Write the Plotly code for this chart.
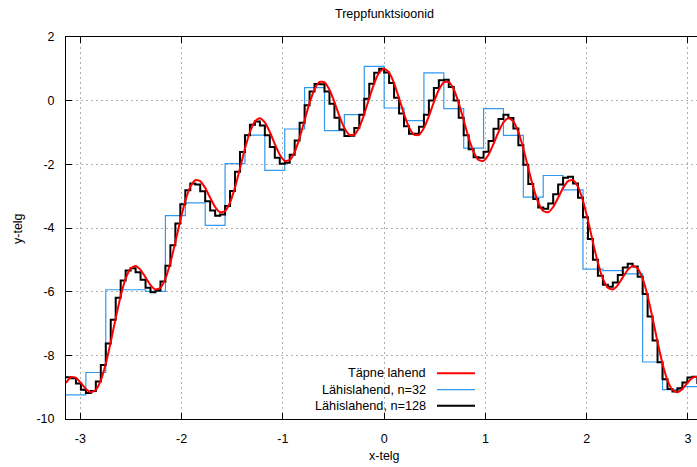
import numpy as np
import plotly.graph_objects as go

# ---------------- data ----------------
X_MIN, X_MAX = -np.pi, np.pi

# exact solution ("Täpne lahend") at 129 equally spaced points on [-pi, pi]
exact_y = [
    -8.870, -8.682, -8.707, -8.868, -9.057, -9.161, -9.086, -8.786, -8.263, -7.579,
    -6.831, -6.134, -5.592, -5.272, -5.192, -5.314, -5.552, -5.794, -5.930, -5.875,
    -5.589, -5.090, -4.446, -3.760, -3.148, -2.708, -2.499, -2.526, -2.740, -3.050,
    -3.341, -3.506, -3.467, -3.198, -2.724, -2.124, -1.506, -0.984, -0.648, -0.549,
    -0.681, -0.984, -1.361, -1.697, -1.888, -1.865, -1.612, -1.168, -0.617, -0.071,
    0.359, 0.588, 0.577, 0.343, -0.046, -0.486, -0.861, -1.075, -1.068, -0.833,
    -0.421, 0.076, 0.546, 0.880, 1.000,
    0.880, 0.546, 0.076, -0.421, -0.833, -1.068, -1.075, -0.861, -0.486, -0.046,
    0.343, 0.577, 0.588, 0.359, -0.071, -0.617, -1.168, -1.612, -1.865, -1.888,
    -1.697, -1.361, -0.984, -0.681, -0.549, -0.648, -0.984, -1.506, -2.124, -2.724,
    -3.198, -3.467, -3.506, -3.341, -3.050, -2.740, -2.526, -2.499, -2.708, -3.148,
    -3.760, -4.446, -5.090, -5.589, -5.875, -5.930, -5.794, -5.552, -5.314, -5.192,
    -5.272, -5.592, -6.134, -6.831, -7.579, -8.263, -8.786, -9.086, -9.161, -9.057,
    -8.868, -8.707, -8.682, -8.870,
]

# step approximation with n=32 (one value per step)
n32_values = [
    -9.24, -8.54, -5.94, -5.94, -5.99, -3.61, -3.21, -3.92, -1.98, -1.08,
    -2.19, -0.89, 0.41, -0.94, -0.44, 1.08, -0.23, -0.63, 0.87, -0.25,
    -1.49, -0.25, -1.09, -3.03, -2.35, -2.80, -5.29, -5.34, -5.44, -8.21,
    -9.08, -8.98,
]

# step approximation with n=128 (one value per step)
n128_values = [
    -8.687, -8.717, -8.884, -9.079, -9.187, -9.118, -8.823, -8.306, -7.626, -6.883,
    -6.191, -5.653, -5.338, -5.262, -5.388, -5.629, -5.876, -6.015, -5.963, -5.680,
    -5.184, -4.543, -3.860, -3.250, -2.812, -2.604, -2.632, -2.848, -3.159, -3.451,
    -3.616, -3.577, -3.307, -2.834, -2.233, -1.614, -1.090, -0.753, -0.653, -0.782,
    -1.084, -1.458, -1.791, -1.979, -1.953, -1.697, -1.249, -0.695, -0.145, 0.289,
    0.523, 0.516, 0.286, -0.098, -0.533, -0.903, -1.112, -1.099, -0.860, -0.443,
    0.060, 0.535, 0.874, 1.000, 0.885, 0.557, 0.092, -0.400, -0.807, -1.036,
    -1.038, -0.819, -0.439, 0.006, 0.399, 0.638, 0.654, 0.429, 0.003, -0.539,
    -1.086, -1.527, -1.777, -1.796, -1.603, -1.264, -0.885, -0.579, -0.445, -0.543,
    -0.877, -1.399, -2.016, -2.615, -3.088, -3.357, -3.396, -3.232, -2.941, -2.632,
    -2.419, -2.393, -2.604, -3.047, -3.661, -4.349, -4.995, -5.497, -5.786, -5.845,
    -5.713, -5.474, -5.240, -5.123, -5.207, -5.530, -6.077, -6.779, -7.532, -8.221,
    -8.748, -9.055, -9.134, -9.036, -8.852, -8.696, -8.676, -8.870,
]

x_ticks = [-3, -2, -1, 0, 1, 2, 3]
y_ticks = [2, 0, -2, -4, -6, -8, -10]

title_text = "Treppfunktsioonid"
x_label = "x-telg"
y_label = "y-telg"
legend_names = ["Täpne lahend", "Lähislahend, n=32", "Lähislahend, n=128"]
colors = ["#ff0000", "#3399ee", "#000000"]

# ---------------- figure ----------------
W, H = 697, 467
PL, PT, PW, PH = 66, 37, 631, 382
FONT = "Liberation Sans, Arial, sans-serif"


def px(xp):
    return (xp - PL) / PW


def py(yp):
    return (PT + PH - yp) / PH


def step_xy(values):
    n = len(values)
    edges = np.linspace(X_MIN, X_MAX, n + 1)
    return edges, list(values) + [values[-1]]


exact_x = np.linspace(X_MIN, X_MAX, len(exact_y))
x32, y32 = step_xy(n32_values)
x128, y128 = step_xy(n128_values)

fig = go.Figure()
fig.add_trace(go.Scatter(x=x32, y=y32, mode="lines", line=dict(color=colors[1], width=1.2, shape="hv"),
                         name=legend_names[1], showlegend=False))
fig.add_trace(go.Scatter(x=x128, y=y128, mode="lines", line=dict(color=colors[2], width=2, shape="hv"),
                         name=legend_names[2], showlegend=False))
fig.add_trace(go.Scatter(x=exact_x, y=exact_y, mode="lines",
                         line=dict(color=colors[0], width=2, shape="spline", smoothing=0.6),
                         name=legend_names[0], showlegend=False))

x_right = X_MIN + PW / 101.27

fig.update_layout(
    width=W, height=H,
    margin=dict(l=PL, r=W - PL - PW, t=PT, b=H - PT - PH, autoexpand=False),
    paper_bgcolor="white", plot_bgcolor="white",
    font=dict(family=FONT, size=12.5, color="#000000"),
    showlegend=False,
    xaxis=dict(range=[X_MIN, x_right], tickvals=x_ticks, ticktext=[str(v) for v in x_ticks],
               showgrid=True, gridcolor="#b0b0b0", griddash="2px,3px", gridwidth=1,
               zeroline=False, showline=True, linecolor="#000000", linewidth=1, mirror="ticks",
               ticks="inside", ticklen=6, tickcolor="#000000", ticklabelstandoff=8),
    yaxis=dict(range=[-10, 2], tickvals=y_ticks, ticktext=[str(v) for v in y_ticks],
               showgrid=True, gridcolor="#b0b0b0", griddash="2px,3px", gridwidth=1,
               zeroline=False, showline=True, linecolor="#000000", linewidth=1, mirror=False,
               ticks="inside", ticklen=6, tickcolor="#000000", ticklabelstandoff=8),
)

ann = [
    dict(text=title_text, x=px(384), y=py(14), xref="paper", yref="paper", showarrow=False,
         xanchor="center", yanchor="middle", font=dict(size=12.5)),
    dict(text=x_label, x=px(384), y=py(456), xref="paper", yref="paper", showarrow=False,
         xanchor="center", yanchor="middle", font=dict(size=12.5)),
    dict(text=y_label, x=px(18), y=py(229), xref="paper", yref="paper", showarrow=False,
         xanchor="center", yanchor="middle", textangle=-90, font=dict(size=12.5)),
]
rows = [373.3, 389.7, 405.7]
for name, col, yy, w in zip(legend_names, colors, rows, [2, 1.2, 2]):
    ann.append(dict(text=name, x=px(427.5), y=py(yy), xref="paper", yref="paper", showarrow=False,
                    xanchor="right", yanchor="middle", font=dict(size=12.7)))
    fig.add_shape(type="line", x0=px(437), x1=px(475), y0=py(yy), y1=py(yy), xref="paper", yref="paper",
                  line=dict(color=col, width=w))
fig.update_layout(annotations=ann)

fig.write_html(
    "out.html",
    config={"displayModeBar": False, "staticPlot": True},
    post_script="document.body.style.margin='0px';document.body.style.padding='0px';"
                "document.body.style.overflow='hidden';",
)
